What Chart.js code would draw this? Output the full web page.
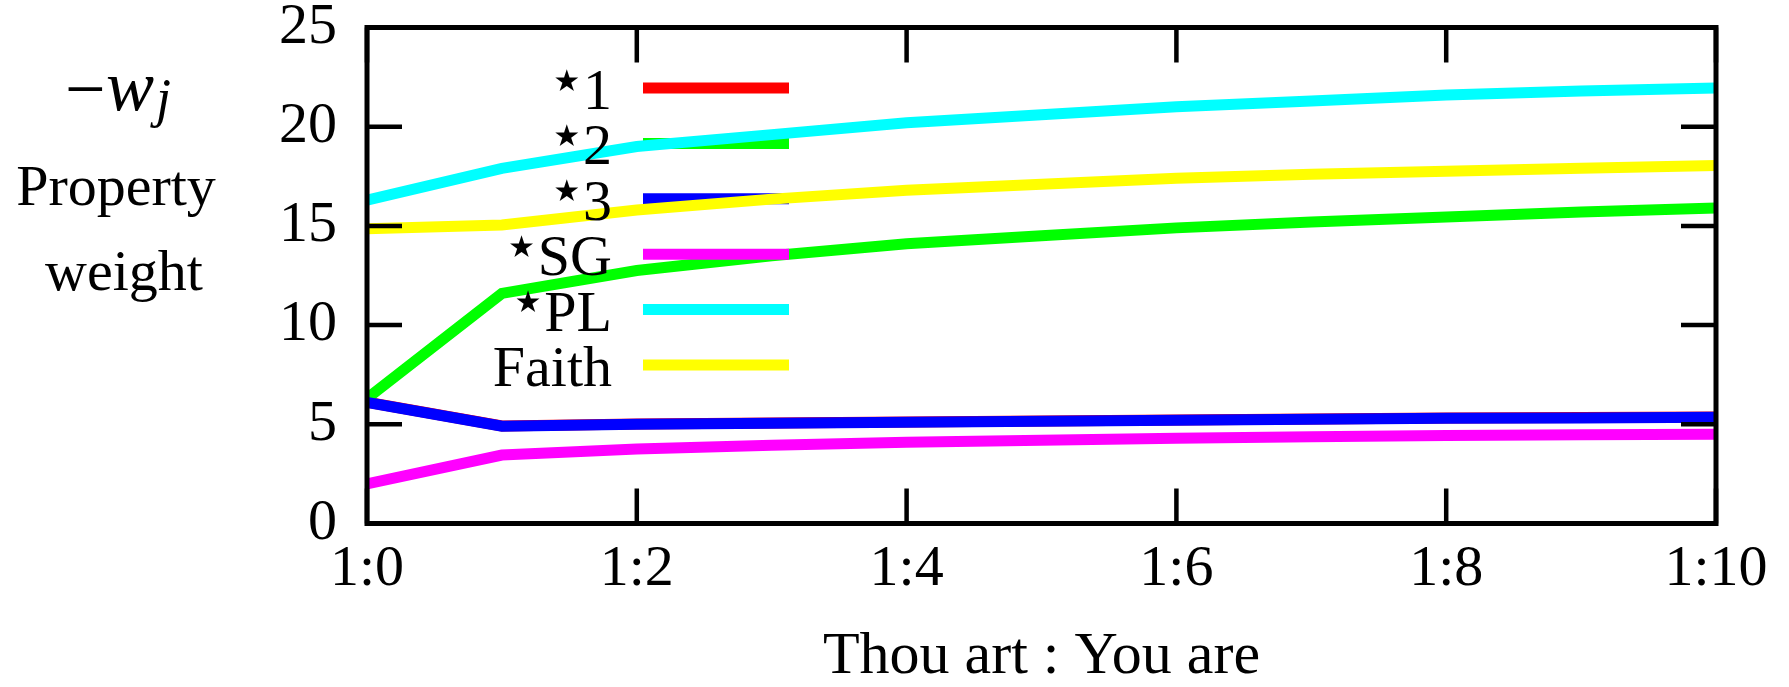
<!DOCTYPE html>
<html>
<head>
<meta charset="utf-8">
<script src="https://cdn.jsdelivr.net/npm/chart.js@4.4.1/dist/chart.umd.min.js"></script>
<style>
    html, body { margin: 0; padding: 0; background: #ffffff; }
    #wrap { width: 1789px; height: 687px; }
</style>
</head>
<body>
<div id="wrap"><canvas id="weightChart" width="1789" height="687"></canvas></div>
<script>
// x = number of "You are" per one "Thou art"
const ratioSteps = [0, 1, 2, 3, 4, 5, 6, 7, 8, 9, 10]
const xTickValues = [0, 2, 4, 6, 8, 10]
const xTickLabels = ['1:0', '1:2', '1:4', '1:6', '1:8', '1:10']
const yTickValues = [0, 5, 10, 15, 20, 25]

// property weights (-w_j)
const star1 = [6.12, 4.92, 5.02, 5.07, 5.12, 5.17, 5.22, 5.27, 5.32, 5.34, 5.37]
const star2 = [6.3, 11.6, 12.75, 13.5, 14.1, 14.5, 14.9, 15.2, 15.45, 15.7, 15.9]
const star3 = [6.1, 4.9, 5.0, 5.05, 5.1, 5.15, 5.2, 5.25, 5.3, 5.32, 5.35]
const starSG = [2.0, 3.45, 3.75, 3.95, 4.1, 4.2, 4.3, 4.37, 4.43, 4.47, 4.5]
const starPL = [16.3, 17.9, 19.0, 19.6, 20.2, 20.6, 21.0, 21.3, 21.6, 21.8, 21.95]
const faith = [14.85, 15.05, 15.8, 16.35, 16.8, 17.1, 17.4, 17.6, 17.75, 17.9, 18.05]

const seriesLabels = ['⋆1', '⋆2', '⋆3', '⋆SG', '⋆PL', 'Faith']
const seriesColors = ['#ff0000', '#00ff00', '#0000ff', '#ff00ff', '#00ffff', '#ffff00']
const seriesValues = [star1, star2, star3, starSG, starPL, faith]

const SERIF = '"Liberation Serif", "Times New Roman", serif'
const FONT_SIZE = 58
const LINE_W = 11

const canvas = document.querySelector('#weightChart')
const ctx = canvas.getContext('2d')

// gnuplot style box: thick frame with inward ticks on all four sides
const frameTicksPlugin = {
    id: 'frameTicksPlugin',
    afterDraw(chart) {
        const { ctx, chartArea: a } = chart
        const xs = chart.scales.x
        const ys = chart.scales.y
        const tickLen = 35
        ctx.save()
        ctx.strokeStyle = '#000000'
        ctx.lineWidth = 4.5
        ctx.beginPath()
        xTickValues.forEach((v) => {
            const px = xs.getPixelForValue(v)
            ctx.moveTo(px, a.bottom)
            ctx.lineTo(px, a.bottom - tickLen)
            ctx.moveTo(px, a.top)
            ctx.lineTo(px, a.top + tickLen)
        })
        yTickValues.forEach((v) => {
            const py = ys.getPixelForValue(v)
            ctx.moveTo(a.left, py)
            ctx.lineTo(a.left + tickLen, py)
            ctx.moveTo(a.right, py)
            ctx.lineTo(a.right - tickLen, py)
        })
        ctx.stroke()
        ctx.lineWidth = 5
        ctx.strokeRect(a.left, a.top, a.right - a.left, a.bottom - a.top)
        ctx.restore()
    },
}

// key inside the plot: samples go under each series' own line, text on top
const keyLayout = { textRight: 245, sampleLeft: 276, sampleRight: 422, firstRow: 60.5, rowStep: 55.4 }

function keyRowY(chart, i) {
    return chart.chartArea.top + keyLayout.firstRow + i * keyLayout.rowStep
}

const keyPlugin = {
    id: 'keyPlugin',
    beforeDatasetDraw(chart, args) {
        const { ctx, chartArea: a } = chart
        const y = keyRowY(chart, args.index)
        ctx.save()
        ctx.strokeStyle = seriesColors[args.index]
        ctx.lineWidth = LINE_W
        ctx.lineCap = 'butt'
        ctx.beginPath()
        ctx.moveTo(a.left + keyLayout.sampleLeft, y)
        ctx.lineTo(a.left + keyLayout.sampleRight, y)
        ctx.stroke()
        ctx.restore()
    },
    afterDatasetsDraw(chart) {
        const { ctx, chartArea: a } = chart
        const right = a.left + keyLayout.textRight
        ctx.save()
        ctx.fillStyle = '#000000'
        ctx.textBaseline = 'alphabetic'
        seriesLabels.forEach((label, i) => {
            const y = keyRowY(chart, i)
            const starred = label.startsWith('⋆')
            const main = starred ? label.slice(1) : label
            ctx.textAlign = 'right'
            ctx.font = FONT_SIZE + 'px ' + SERIF
            ctx.fillText(main, right, y + 21)
            if (starred) {
                const w = ctx.measureText(main).width
                // star as a raised symbol, centred from its own glyph box
                ctx.font = '60px "DejaVu Sans", sans-serif'
                ctx.textAlign = 'left'
                const m = ctx.measureText('⋆')
                const gw = m.actualBoundingBoxLeft + m.actualBoundingBoxRight
                const gx = right - w - 4 - gw + m.actualBoundingBoxLeft
                const gy = y - 8 + (m.actualBoundingBoxAscent - m.actualBoundingBoxDescent) / 2
                ctx.fillText('⋆', gx, gy)
            }
        })
        ctx.restore()
    },
}

// the stacked y label on the far left
const yTitlePlugin = {
    id: 'yTitlePlugin',
    afterDraw(chart) {
        const ctx = chart.ctx
        ctx.save()
        ctx.fillStyle = '#000000'
        ctx.textBaseline = 'alphabetic'
        ctx.textAlign = 'left'
        ctx.font = '72px ' + SERIF
        ctx.fillText('−', 65, 113)
        ctx.font = 'italic 72px ' + SERIF
        ctx.fillText('w', 106, 110)
        ctx.font = 'italic 54px ' + SERIF
        ctx.fillText('j', 156, 116)
        ctx.textAlign = 'center'
        ctx.font = FONT_SIZE + 'px ' + SERIF
        ctx.fillText('Property', 116, 205)
        ctx.fillText('weight', 124, 290)
        ctx.restore()
    },
}

const datasets = seriesLabels.map((label, i) => ({
    label: label,
    data: ratioSteps.map((r, j) => ({ x: r, y: seriesValues[i][j] })),
    borderColor: seriesColors[i],
    backgroundColor: seriesColors[i],
    borderWidth: LINE_W,
    pointRadius: 0,
    tension: 0,
    fill: false,
    // later series are drawn on top, like the original
    order: seriesLabels.length - i,
}))

const config = {
    type: 'line',
    data: { datasets: datasets },
    options: {
        responsive: false,
        animation: false,
        devicePixelRatio: 1,
        layout: {
            padding: { left: 0, top: 27.5, right: 73, bottom: 0 },
        },
        plugins: {
            legend: { display: false },
            tooltip: { enabled: false },
        },
        scales: {
            x: {
                type: 'linear',
                min: 0,
                max: 10,
                afterBuildTicks: (scale) => {
                    scale.ticks = xTickValues.map((v) => ({ value: v }))
                },
                afterFit: (scale) => {
                    scale.height = 687 - 523.5
                    scale.paddingLeft = 0
                    scale.paddingRight = 0
                },
                grid: { display: false, drawTicks: false },
                border: { display: false },
                ticks: {
                    color: '#000000',
                    padding: 17,
                    maxRotation: 0,
                    autoSkip: false,
                    font: { family: SERIF, size: FONT_SIZE, lineHeight: 1 },
                    callback: (value) => xTickLabels[xTickValues.indexOf(value)],
                },
                title: {
                    display: true,
                    text: 'Thou art : You are',
                    color: '#000000',
                    padding: { top: 0, bottom: 0 },
                    font: { family: SERIF, size: 60, lineHeight: 1 },
                },
            },
            y: {
                min: 0,
                max: 25,
                afterBuildTicks: (scale) => {
                    scale.ticks = yTickValues.map((v) => ({ value: v }))
                },
                afterFit: (scale) => {
                    scale.width = 367
                    scale.paddingTop = 0
                    scale.paddingBottom = 0
                },
                grid: { display: false, drawTicks: false },
                border: { display: false },
                ticks: {
                    color: '#000000',
                    padding: 30,
                    font: { family: SERIF, size: FONT_SIZE, lineHeight: 1 },
                },
            },
        },
    },
    plugins: [keyPlugin, frameTicksPlugin, yTitlePlugin],
}

const weightChart = new Chart(ctx, config)
</script>
</body>
</html>
